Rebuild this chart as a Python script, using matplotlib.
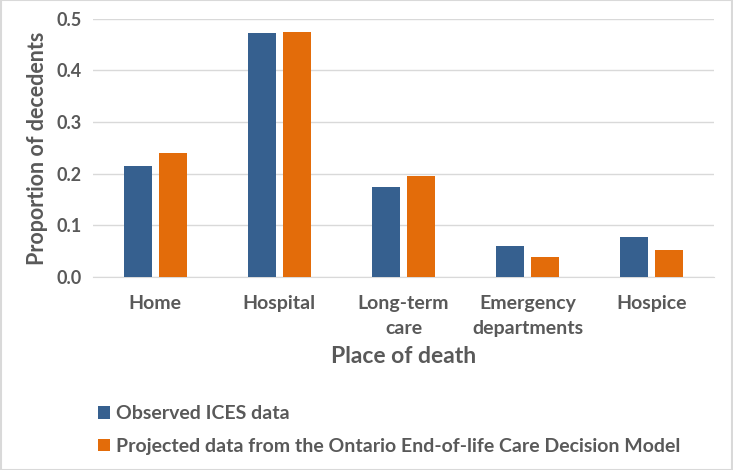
import numpy as np
import matplotlib.pyplot as plt
from matplotlib.patches import Rectangle

# data
places = ['Home', 'Hospital', 'Long-term\ncare', 'Emergency\ndepartments', 'Hospice']
observed = [0.215, 0.472, 0.175, 0.060, 0.077]
projected = [0.239, 0.474, 0.195, 0.038, 0.052]
series_names = ['Observed ICES data',
                'Projected data from the Ontario End-of-life Care Decision Model']

blue = '#36608f'
orange = '#e36c0a'
txt = '#595959'

plt.rcParams['font.family'] = ['Lato', 'DejaVu Sans']
plt.rcParams['font.weight'] = 'bold'

fig = plt.figure(figsize=(7.33, 4.70), dpi=100)
ax = fig.add_axes([0.127, 0.411, 0.847, 0.549])

x = np.arange(len(places))
w = 0.225
gap = 0.028
ax.bar(x - w / 2 - gap, observed, w, color=blue, label=series_names[0], zorder=3)
ax.bar(x + w / 2 + gap, projected, w, color=orange, label=series_names[1], zorder=3)

ax.set_xlim(-0.5, len(places) - 0.5)
ax.set_ylim(0, 0.5)
ax.set_yticks(np.arange(0, 0.51, 0.1))
ax.set_yticklabels([f'{v:.1f}' for v in np.arange(0, 0.51, 0.1)])
ax.set_xticks(x)
ax.set_xticklabels(places, linespacing=1.6)
ax.tick_params(axis='both', length=0, colors=txt)
ax.tick_params(axis='x', pad=13, labelsize=14)
ax.tick_params(axis='y', pad=8, labelsize=13)
ax.grid(axis='y', color='#d9d9d9', linewidth=1, zorder=0)
for s in ['top', 'right', 'left']:
    ax.spines[s].set_visible(False)
ax.spines['bottom'].set_color('#d9d9d9')

ax.set_ylabel('Proportion of decedents', fontsize=15.5, color=txt, fontweight='bold', labelpad=6)
ax.set_xlabel('Place of death', fontsize=16.5, color=txt, fontweight='bold', labelpad=6)

leg = fig.legend(loc='upper left', bbox_to_anchor=(0.11, 0.175), frameon=False,
                 fontsize=14, handlelength=0.6, handleheight=0.6, handletextpad=0.3,
                 labelspacing=0.8, labelcolor=txt)

fig.add_artist(Rectangle((0.001, 0.001), 0.998, 0.998, transform=fig.transFigure,
                         fill=False, edgecolor='#d9d9d9', linewidth=1.5))

plt.savefig('out.png', dpi=100)
